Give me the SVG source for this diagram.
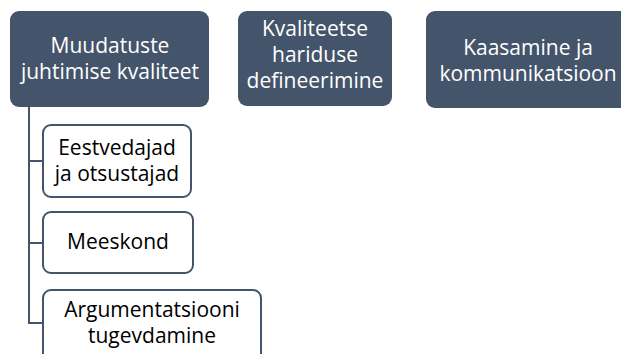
<svg xmlns="http://www.w3.org/2000/svg" width="621" height="354" viewBox="0 0 621 354">
<style>
.top{fill:#44546a;}
.child{fill:#ffffff;stroke:#44546a;stroke-width:2;}
.tw{font-family:"Open Sans","Liberation Sans",sans-serif;font-size:21px;fill:#ffffff;text-anchor:middle;}
.tb{font-family:"Open Sans","Liberation Sans",sans-serif;font-size:21px;fill:#000000;text-anchor:middle;}
.conn{fill:none;stroke:#44546a;stroke-width:2;}
</style>
<rect width="621" height="354" fill="#ffffff"/>
<g id="connectors">
<path class="conn" d="M29 107 V323 M28 161 H43 M28 243 H43 M28 323 H43"/>
</g>
<g id="n1">
<rect class="top" x="10" y="11" width="199" height="96" rx="9"/>
<text class="tw" x="110" y="53">Muudatuste</text>
<text class="tw" x="110" y="79">juhtimise kvaliteet</text>
</g>
<g id="n2">
<rect class="top" x="238" y="11" width="154" height="95" rx="9"/>
<text class="tw" x="315" y="36">Kvaliteetse</text>
<text class="tw" x="315" y="62">hariduse</text>
<text class="tw" x="315" y="88">defineerimine</text>
</g>
<g id="n3">
<rect class="top" x="426" y="11" width="204" height="97" rx="9"/>
<text class="tw" x="528" y="55">Kaasamine ja</text>
<text class="tw" x="528" y="81">kommunikatsioon</text>
</g>
<g id="c1">
<rect class="child" x="43" y="125" width="148" height="72" rx="8"/>
<text class="tb" x="117" y="155">Eestvedajad</text>
<text class="tb" x="117" y="181">ja otsustajad</text>
</g>
<g id="c2">
<rect class="child" x="43" y="212" width="150" height="61" rx="8"/>
<text class="tb" x="118" y="249">Meeskond</text>
</g>
<g id="c3">
<rect class="child" x="43" y="290" width="218" height="80" rx="8"/>
<text class="tb" x="152" y="317">Argumentatsiooni</text>
<text class="tb" x="152" y="343">tugevdamine</text>
</g>
</svg>
